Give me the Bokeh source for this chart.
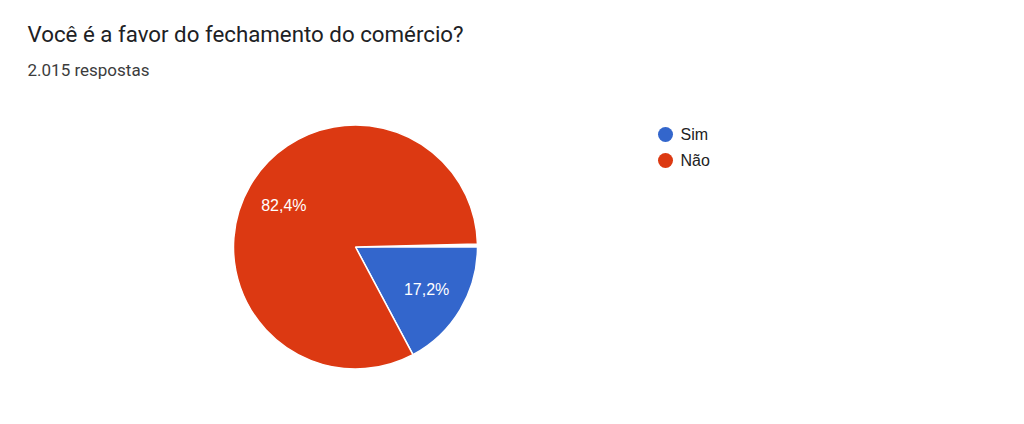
import math
from bokeh.plotting import figure
from bokeh.models import ColumnDataSource, Range1d
from bokeh.core.properties import value
from bokeh.embed import file_html
from bokeh.resources import INLINE

# survey data
title = "Você é a favor do fechamento do comércio?"
subtitle = "2.015 respostas"
answers = ["Sim", "Não"]
percents = [17.2, 82.4]
colors = ["#3366cc", "#dc3912"]

W, H = 1008, 408
cx, cy, R = 355, 161.5, 122

# wedges run clockwise from 3 o'clock
starts, ends, mids = [], [], []
acc = 0.0
for v in percents:
    a0 = -2 * math.pi * acc / 100
    acc += v
    a1 = -2 * math.pi * acc / 100
    starts.append(a0)
    ends.append(a1)
    mids.append((a0 + a1) / 2)

src = ColumnDataSource(data=dict(
    answer=answers, pct=percents, color=colors,
    start=starts, end=ends,
    lx=[cx + 0.68 * R * math.cos(m) for m in mids],
    ly=[cy + 0.68 * R * math.sin(m) for m in mids],
    label=[f"{v:.1f}%".replace(".", ",") for v in percents],
))

p = figure(width=W, height=H, output_backend="svg", toolbar_location=None,
           x_range=Range1d(0, W), y_range=Range1d(0, H), min_border=0)
p.axis.visible = False
p.grid.visible = False
p.outline_line_color = None
p.background_fill_color = "white"
p.border_fill_color = "white"

p.wedge(x=cx, y=cy, radius=R, start_angle="start", end_angle="end",
        direction="clock", fill_color="color", line_color="white",
        line_width=1.5, source=src)

p.text(x="lx", y="ly", text="label", source=src, text_color="white",
       text_font=value("Liberation Sans"), text_font_size="16px",
       text_align="center", text_baseline="middle")

# header texts
p.text(x=[27], y=[375], text=[title], text_font=value("Roboto"),
       text_font_size="22.3px", text_color="#202124", text_baseline="middle")
p.text(x=[27], y=[339], text=[subtitle], text_font=value("Roboto"),
       text_font_size="17px", text_color="#3c3c3c", text_baseline="middle")

# legend
leg_y = [274 - 26 * i for i in range(len(answers))]
p.scatter(x=[665] * len(answers), y=leg_y, size=15, fill_color=colors,
          line_color=None)
p.text(x=[680] * len(answers), y=leg_y, text=answers,
       text_font=value("Liberation Sans"), text_font_size="16px",
       text_color="#222222", text_baseline="middle")

open("out.html", "w").write(file_html(p, INLINE))
